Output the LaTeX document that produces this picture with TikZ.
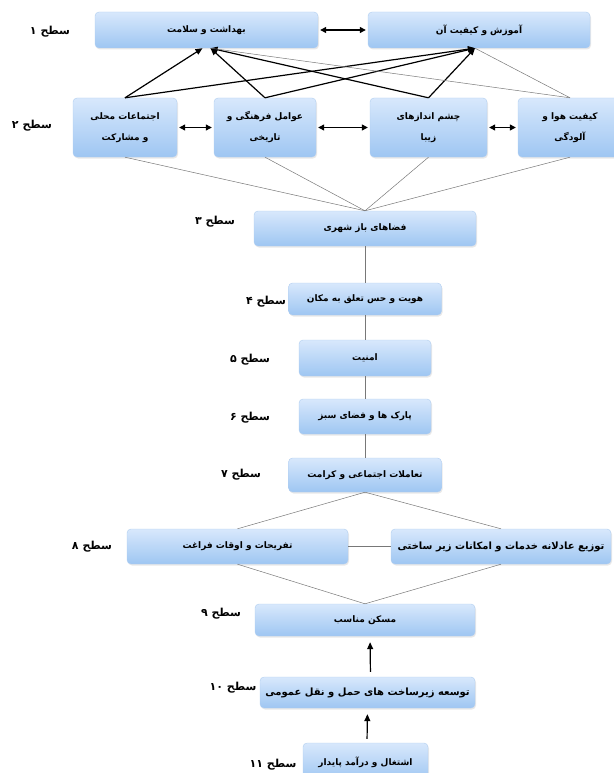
\documentclass[tikz,border=0pt]{standalone}
\usepackage{fontspec}
\usetikzlibrary{arrows.meta,shadows}
\TeXXeTstate=1
\newfontfamily\arabicfont[Script=Arabic]{DejaVu Sans}
\newcommand{\fa}[1]{\beginR #1\endR}
\definecolor{boxtop}{RGB}{216,232,252}
\definecolor{boxbot}{RGB}{158,198,242}
\definecolor{boxline}{RGB}{176,205,240}
\definecolor{weakline}{RGB}{120,120,120}

\begin{document}
\begin{tikzpicture}[x=1pt,y=-1pt,
    box/.style={rectangle, rounded corners=4pt, draw=boxline, top color=boxtop, bottom color=boxbot,
      drop shadow={opacity=0.18, shadow xshift=1pt, shadow yshift=-1.5pt},
      font=\arabicfont\bfseries\fontsize{9}{21}\selectfont, align=center, inner sep=0pt},
    bigtext/.style={font=\arabicfont\bfseries\fontsize{10}{12}\selectfont},
    levellabel/.style={font=\arabicfont\bfseries\fontsize{11}{13}\selectfont},
    strong/.style={black, line width=1.2pt, -{Triangle[length=7pt,width=6pt]}},
    both/.style={black, line width=1.2pt, {Triangle[length=6pt,width=6pt]}-{Triangle[length=6pt,width=6pt]}, shorten <=2pt, shorten >=2pt},
    weak/.style={weakline, line width=0.5pt},
    up/.style={black, line width=1.2pt, -{Triangle[length=7pt,width=6pt]}}
  ]
        \useasboundingbox (0,0) rectangle (613,773);

        % level 1
        \node[box, minimum width=223, minimum height=36] (hs) at (206.5,30) {\fa{بهداشت و سلامت}};
        \node[box, minimum width=222, minimum height=36] (ed) at (479,30) {\fa{آموزش و کیفیت آن}};
        % level 2
        \node[box, minimum width=104, minimum height=59] (g1) at (125,127.5) {\fa{اجتماعات محلی}\\\fa{و مشارکت}};
        \node[box, minimum width=102, minimum height=59] (g2) at (265,127.5) {\fa{عوامل فرهنگی و}\\\fa{تاریخی}};
        \node[box, minimum width=117, minimum height=59] (g3) at (428.5,127.5) {\fa{چشم اندازهای}\\\fa{زیبا}};
        \node[box, minimum width=104, minimum height=59] (g4) at (570,127.5) {\fa{کیفیت هوا و}\\\fa{آلودگی}};
        % levels 3 to 7
        \node[box, minimum width=222, minimum height=35] (os) at (365,228.5) {\fa{فضاهای باز شهری}};
        \node[box, minimum width=153, minimum height=32] (id) at (365,299) {\fa{هویت و حس تعلق به مکان}};
        \node[box, minimum width=132, minimum height=36] (sec) at (365,358) {\fa{امنیت}};
        \node[box, minimum width=132, minimum height=35] (pk) at (365,416.5) {\fa{پارک ها و فضای سبز}};
        \node[box, minimum width=153, minimum height=34] (so) at (365,475) {\fa{تعاملات اجتماعی و کرامت}};
        % level 8
        \node[box, minimum width=221, minimum height=35] (le) at (237.5,546.5) {\fa{تفریحات و اوقات فراغت}};
        \node[box, bigtext, minimum width=220, minimum height=35] (ju) at (501,546.5) {\fa{توزیع عادلانه خدمات و امکانات زیر ساختی}};
        % levels 9 to 11
        \node[box, minimum width=220, minimum height=32] (ho) at (365,620) {\fa{مسکن مناسب}};
        \node[box, bigtext, minimum width=215, minimum height=31] (tr) at (367.5,692.5) {\fa{توسعه زیرساخت های حمل و نقل عمومی}};
        \node[box, minimum width=125, minimum height=38] (em) at (365.5,762) {\fa{اشتغال و درآمد پایدار}};

        % level labels
        \node[levellabel] (s1) at (50,32) {\fa{سطح ۱}};
        \node[levellabel] (s2) at (32,126) {\fa{سطح ۲}};
        \node[levellabel] (s3) at (215,222) {\fa{سطح ۳}};
        \node[levellabel] (s4) at (266,302) {\fa{سطح ۴}};
        \node[levellabel] (s5) at (250,360) {\fa{سطح ۵}};
        \node[levellabel] (s6) at (250,418) {\fa{سطح ۶}};
        \node[levellabel] (s7) at (241,475) {\fa{سطح ۷}};
        \node[levellabel] (s8) at (92,547) {\fa{سطح ۸}};
        \node[levellabel] (s9) at (221,614) {\fa{سطح ۹}};
        \node[levellabel] (s10) at (233,688) {\fa{سطح ۱۰}};
        \node[levellabel] (s11) at (273,765) {\fa{سطح ۱۱}};

        % links between level 1 and level 2
        \draw[both] (hs) -- (ed);
        \draw[strong] (g1.north) -- ([xshift=-4pt]hs.south);
        \draw[strong] (g1.north) -- ([xshift=-4pt]ed.south);
        \draw[strong] (g2.north) -- ([xshift=4pt]hs.south);
        \draw[strong] (g2.north) -- ([xshift=-4pt]ed.south);
        \draw[strong] (g3.north) -- ([xshift=4pt]hs.south);
        \draw[strong] (g3.north) -- ([xshift=-4pt]ed.south);
        \draw[weak] (g4.north) -- ([xshift=4pt]hs.south);
        \draw[weak] (g4.north) -- ([xshift=-4pt]ed.south);
        \draw[both] (g1) -- (g2);
        \draw[both] (g2) -- (g3);
        \draw[both] (g3) -- (g4);
        % level 2 to 3
        \foreach \g in {g1,g2,g3,g4}
          \draw[weak] (\g.south) -- (os.north);
        \draw[weak] (os) -- (id);
        \draw[weak] (id) -- (sec);
        \draw[weak] (sec) -- (pk);
        \draw[weak] (pk) -- (so);
        % level 7 to 9
        \draw[weak] (so.south) -- (le.north);
        \draw[weak] (so.south) -- (ju.north);
        \draw[weak] (le) -- (ju);
        \draw[weak] (le.south) -- (ho.north);
        \draw[weak] (ju.south) -- (ho.north);
        % levels 11 to 9
        \draw[up, shorten <=5pt, shorten >=6pt] ([xshift=3pt]tr.north) -- ([xshift=5pt]ho.south);
        \draw[up, shorten <=4pt, shorten >=6pt] ([xshift=1.5pt]em.north) -- (tr.south);
      \end{tikzpicture}
\end{document}
